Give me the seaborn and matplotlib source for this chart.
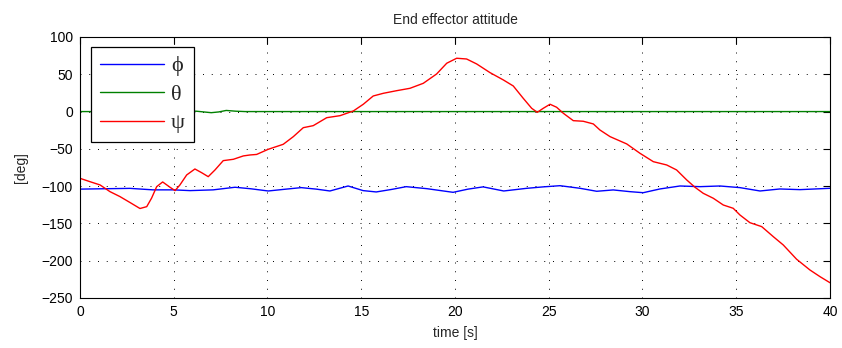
import matplotlib
matplotlib.use("Agg")
import matplotlib.pyplot as plt
import seaborn as sns
import pandas as pd

# values
t_phi = [0, 1.3, 2.67, 3.9, 4.98, 5.87, 7.1, 8.27, 9.1, 10.04, 11.0, 11.8, 12.6, 13.33, 14.3,
         15.1, 15.8, 16.6, 17.4, 18.5, 19.9, 20.7, 21.5, 22.6, 23.8, 24.7, 25.6, 26.67, 27.56,
         28.44, 29.33, 30.04, 30.93, 32.0, 33.07, 34.13, 35.2, 36.27, 37.33, 38.4, 40]
phi = [-104, -103.5, -103, -105, -105, -106, -105, -101.5, -103.5, -106.5, -104, -102, -104,
       -106.5, -99.8, -106, -107.8, -104.5, -100.7, -103.4, -108.3, -104, -101, -106.5, -103,
       -101, -99.4, -102.9, -106.9, -105.1, -107.4, -108.8, -103.8, -99.8, -100.7, -99.8,
       -102, -106.5, -103.8, -104.7, -102.9]

t_theta = [0, 5.5, 6.2, 6.6, 7.0, 7.4, 7.8, 8.3, 8.8, 40]
theta = [0, 0, 0.5, -0.5, -1.5, -0.5, 1.5, 0.5, 0, 0]

t_psi = [0, 0.53, 1.07, 1.6, 2.13, 2.67, 3.2, 3.56, 3.82, 4.09, 4.41, 4.8, 5.07, 5.33, 5.69,
         6.13, 6.49, 6.84, 7.2, 7.64, 8.18, 8.71, 9.07, 9.42, 10.04, 10.84, 11.38, 11.91,
         12.44, 13.16, 13.87, 14.58, 15.11, 15.64, 16.18, 16.89, 17.6, 18.31, 19.02, 19.56,
         20.09, 20.62, 21.16, 21.87, 22.58, 23.11, 23.64, 24.09, 24.39, 24.71, 25.07, 25.42,
         25.78, 26.31, 26.84, 27.38, 27.73, 28.27, 29.16, 29.87, 30.58, 31.29, 31.82, 32.36,
         32.8, 33.24, 33.78, 34.31, 34.84, 35.2, 35.73, 36.36, 36.98, 37.51, 38.22, 38.93,
         39.47, 40]
psi = [-89.5, -94, -98.4, -107.4, -114, -122, -130, -127.5, -116, -100.7, -94.4, -101.5, -106,
       -98.4, -85, -77, -82, -87.3, -78.3, -65.8, -64, -59.5, -58.2, -57.5, -50.6, -43.9,
       -33.6, -21.6, -18.9, -8.2, -5.5, 0.8, 9.8, 20.9, 24.5, 28, 31.2, 37.9, 50.4, 64.8,
       71.5, 70.5, 63.8, 52.2, 42.4, 34.3, 17.8, 4.4, -1, 4.4, 9.8, 5.8, -2.3, -12.2, -13,
       -16.6, -24.7, -33.6, -43.4, -56, -67.2, -71.6, -78.3, -91.7, -101.5, -109.6, -116.3,
       -125.3, -129.7, -138.7, -149, -154.3, -167.8, -178.9, -198, -212.4, -221.4, -229.5]

df = pd.concat([
    pd.DataFrame({"t": t_phi, "v": phi, "s": "ϕ"}),
    pd.DataFrame({"t": t_theta, "v": theta, "s": "θ"}),
    pd.DataFrame({"t": t_psi, "v": psi, "s": "ψ"}),
])

sns.set_style("white")
plt.rcParams['font.family'] = ['Liberation Sans', 'DejaVu Sans']
plt.rcParams['font.size'] = 10

fig = plt.figure(figsize=(8.42, 3.48), dpi=100)
ax = fig.add_axes([0.095, 0.1437, 0.8907, 0.75])

sns.lineplot(data=df, x="t", y="v", hue="s", sort=False, estimator=None,
             palette={"ϕ": "#0000ff", "θ": "#008000", "ψ": "#ff0000"},
             linewidth=1.0, ax=ax)

ax.set_xlim(0, 40)
ax.set_ylim(-250, 100)
ax.set_xticks(range(0, 41, 5))
ax.set_yticks(range(-250, 101, 50))
ax.grid(True, color="black", linestyle=(0, (1, 8)), linewidth=0.7)
ax.tick_params(direction="in", length=5, pad=5, top=True, right=True, labelsize=10,
               colors="black")
for sp in ax.spines.values():
    sp.set_color("black")
    sp.set_linewidth(0.8)

ax.set_title("End effector attitude", fontsize=10, pad=9)
ax.set_xlabel("time [s]", fontsize=10, labelpad=5)
ax.set_ylabel("[deg]", fontsize=10, labelpad=10)

leg = ax.legend(loc="upper left", bbox_to_anchor=(0.0147, 0.962), borderaxespad=0,
                frameon=True, fancybox=False, edgecolor="black", handlelength=2.9,
                handletextpad=0.3, labelspacing=0.36, borderpad=0.4,
                prop={"family": ["Liberation Serif", "DejaVu Serif"], "size": 16})
leg.get_frame().set_linewidth(0.9)
leg.get_frame().set_alpha(1)

fig.savefig("out.png", dpi=100)
